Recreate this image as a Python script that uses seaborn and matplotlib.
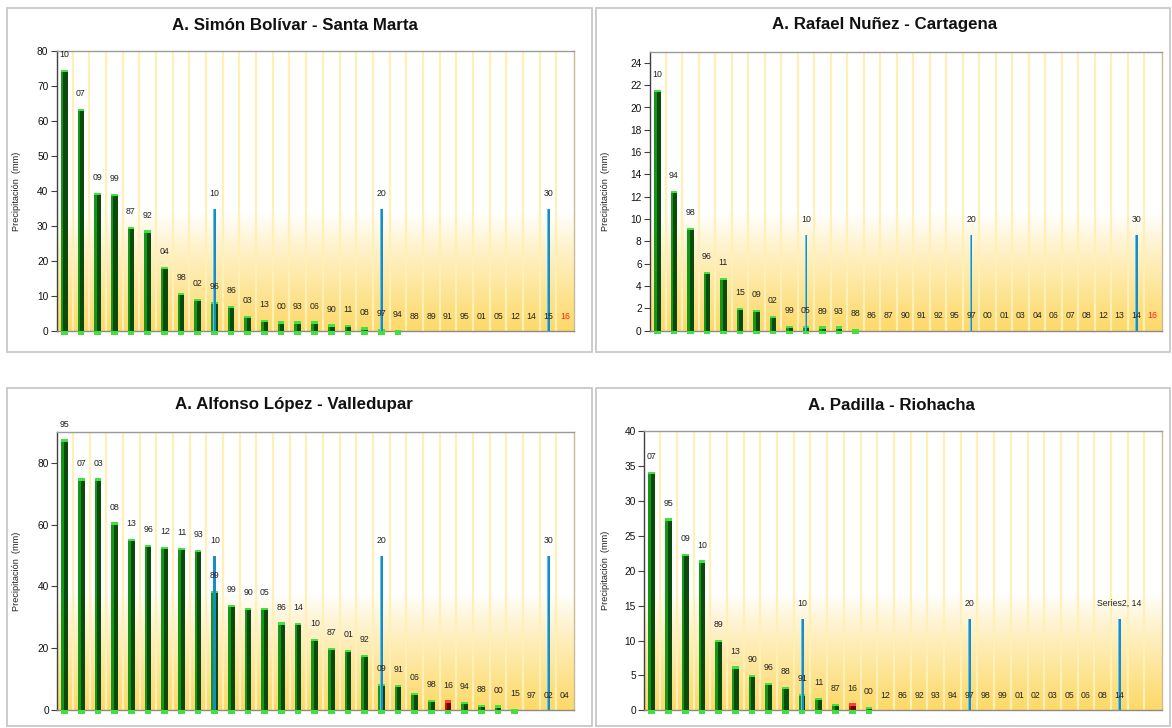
import numpy as np
import pandas as pd
import matplotlib
matplotlib.use("Agg")
import matplotlib.pyplot as plt
import seaborn as sns
from matplotlib.colors import to_rgb
from matplotlib.patches import Rectangle

sns.set_theme(style="white")
plt.rcParams["font.family"] = ["Liberation Sans", "DejaVu Sans"]

# ---------------- data ----------------
sm_years = ["10", "07", "09", "99", "87", "92", "04", "98", "02", "96", "86", "03", "13", "00", "93", "06",
            "90", "11", "08", "97", "94", "88", "89", "91", "95", "01", "05", "12", "14", "15", "16"]
sm_vals = [74.7, 63.5, 39.6, 39.3, 29.8, 28.8, 18.3, 10.9, 9.3, 8.4, 7.2, 4.5, 3.2, 2.8, 2.8, 2.8,
           2.0, 1.9, 1.1, 0.6, 0.5, 0, 0, 0, 0, 0, 0, 0, 0, 0, 0]

ct_years = ["10", "94", "98", "96", "11", "15", "09", "02", "99", "05", "89", "93", "88", "86", "87", "90",
            "91", "92", "95", "97", "00", "01", "03", "04", "06", "07", "08", "12", "13", "14", "16"]
ct_vals = [21.6, 12.5, 9.2, 5.25, 4.75, 2.05, 1.85, 1.35, 0.45, 0.45, 0.38, 0.38, 0.18, 0, 0, 0,
           0, 0, 0, 0, 0, 0, 0, 0, 0, 0, 0, 0, 0, 0, 0]

vd_years = ["95", "07", "03", "08", "13", "96", "12", "11", "93", "89", "99", "90", "05", "86", "14", "10",
            "87", "01", "92", "09", "91", "06", "98", "16", "94", "88", "00", "15", "97", "02", "04"]
vd_vals = [87.5, 74.9, 74.9, 60.7, 55.4, 53.5, 52.8, 52.5, 51.9, 38.6, 34.1, 33.2, 33.2, 28.4, 28.2, 23.0,
           20.2, 19.4, 17.8, 8.5, 8.1, 5.6, 3.4, 3.2, 2.7, 1.8, 1.6, 0.4, 0, 0, 0]

rh_years = ["07", "95", "09", "10", "89", "13", "90", "96", "88", "91", "11", "87", "16", "00", "12", "86",
            "92", "93", "94", "97", "98", "99", "01", "02", "03", "05", "06", "08", "14", "", ""]
rh_vals = [34.2, 27.5, 22.4, 21.5, 10.1, 6.3, 5.1, 3.95, 3.35, 2.4, 1.8, 0.95, 1.0, 0.45, 0, 0,
           0, 0, 0, 0, 0, 0, 0, 0, 0, 0, 0, 0, 0, 0, 0]

# reference (rank) series: rank index, height, label
sm_ref_pos = [9, 19, 29]
sm_ref_h = [35, 35, 35]
ct_ref_pos = [9, 19, 29]
ct_ref_h = [8.6, 8.6, 8.6]
vd_ref_pos = [9, 19, 29]
vd_ref_h = [50, 50, 50]
rh_ref_pos = [9, 19, 28]
rh_ref_h = [13.1, 13.1, 13.1]
ref_labels = ["10", "20", "30"]
rh_ref_labels = ["10", "20", "Series2, 14"]

current_year = "16"

W, H = 1172, 728
fig = plt.figure(figsize=(W / 100, H / 100), dpi=100)
fig.patch.set_facecolor("white")


def frame(x0, y0, x1, y1):
    fig.patches.append(Rectangle((x0 / W, 1 - y1 / H), (x1 - x0) / W, (y1 - y0) / H,
                                 transform=fig.transFigure, fill=False,
                                 ec="#c4c4c4", lw=1.2, zorder=0))


def add_axes(l, t, r, b):
    return fig.add_axes([l / W, 1 - b / H, (r - l) / W, (b - t) / H])


def gradient(ax):
    n = 300
    f = np.linspace(1, 0, n)[:, None]  # top -> bottom
    t = np.clip(1 - f / 0.42, 0, 1) ** 0.9
    top = np.array(to_rgb("#ffffff"))
    bot = np.array(to_rgb("#fdd968"))
    img = top[None, None, :] * (1 - t[..., None]) + bot[None, None, :] * t[..., None]
    img = np.repeat(img, 2, axis=1)
    ax.imshow(img, extent=[0, 1, 0, 1], transform=ax.transAxes, aspect="auto",
              zorder=0, interpolation="bilinear")


def panel(rect, title, title_xy, years, vals, ref_pos, ref_h, ref_lab, ymax, yticks, ylab_x):
    ax = add_axes(*rect)
    n = len(years)
    df = pd.DataFrame({"pos": np.arange(n), "year": years, "val": vals})
    df["kind"] = np.where((df["year"] == current_year) & (df["val"] > 0), "hot", "normal")
    gradient(ax)
    ax.vlines(np.arange(0.5, n - 0.5), 0, ymax, color="#fff0b5", lw=1.6, zorder=1)

    bw = 0.4
    sns.barplot(data=df, x="pos", y="val", hue="kind", order=list(range(n)),
                palette={"normal": "#169616", "hot": "#cc1010"}, dodge=False,
                width=bw, legend=False, ax=ax, zorder=3, linewidth=0, saturation=1)
    dark = np.where(df["kind"] == "hot", "#6e0000", "#0a4a0a")
    ax.bar(df["pos"] + bw * 0.18, df["val"], width=bw * 0.64, color=dark, zorder=4, lw=0)
    cap = ymax * 0.008
    capc = np.where(df["kind"] == "hot", "#ff4040", "#3fe23f")
    sel = df["val"] > 0
    ax.bar(df["pos"][sel], cap, bottom=df["val"][sel] - cap, width=bw,
           color=capc[sel.values], zorder=5, lw=0)
    ax.bar(df["pos"][sel], -ymax * 0.012, bottom=0, width=bw,
           color="#44dd44", zorder=5, lw=0, clip_on=False)

    # reference lines (10th, 20th, 30th rank)
    rdf = pd.DataFrame({"pos": ref_pos, "h": ref_h, "lab": ref_lab})
    ax.bar(rdf["pos"], rdf["h"], width=0.17, color="#1a8cc4", zorder=6, lw=0)
    ax.bar(rdf["pos"] - 0.045, rdf["h"], width=0.05, color="#5ec3ec", zorder=6, lw=0)
    for p, h, lab in zip(rdf["pos"], rdf["h"], rdf["lab"]):
        ax.annotate(lab, (p, h), xytext=(0, 11), textcoords="offset points",
                    ha="center", va="center", fontsize=6.3, color="#222222", zorder=8)

    for i, (y, v) in enumerate(zip(years, vals)):
        if y == "":
            continue
        col = "#ff2020" if (y == current_year and v == 0) else "#222222"
        ax.annotate(y, (i, v), xytext=(0, 11), textcoords="offset points",
                    ha="center", va="center", fontsize=6.3, color=col, zorder=8)

    ax.set_xlim(-0.45, n - 0.45)
    ax.set_ylim(0, ymax)
    ax.set_yticks(yticks)
    ax.set_yticklabels([str(t) for t in yticks])
    ax.set_xticks([])
    ax.set_xlabel("")
    ax.set_ylabel("")
    ax.tick_params(axis="y", direction="out", length=4, width=0.8, color="#404040",
                   labelsize=7.3, labelcolor="#111111", pad=2, left=True)
    for s, c in [("left", "#404040"), ("bottom", "#8a8a8a"), ("top", "#9a9a9a"), ("right", "#c8bc98")]:
        ax.spines[s].set_color(c)
        ax.spines[s].set_linewidth(1.0)
        ax.spines[s].set_visible(True)
    ax.grid(False)
    fig.text(title_xy[0] / W, 1 - title_xy[1] / H, title, ha="center", va="center",
             fontsize=12.2, fontweight="bold", color="#111111")
    yc = (rect[1] + rect[3]) / 2
    fig.text(ylab_x / W, 1 - yc / H, "Precipitación  (mm)", rotation=90,
             ha="center", va="center", fontsize=6.6, color="#222222")
    return ax


frame(7, 8, 592, 352)
frame(596, 8, 1170, 352)
frame(7, 388, 592, 726)
frame(596, 388, 1170, 726)

panel((56.7, 51.3, 574, 331.3), "A. Simón Bolívar - Santa Marta", (295, 25),
      sm_years, sm_vals, sm_ref_pos, sm_ref_h, ref_labels, 80, list(range(0, 81, 10)), 17)
panel((650, 51.7, 1161.7, 330.7), "A. Rafael Nuñez - Cartagena", (885, 25),
      ct_years, ct_vals, ct_ref_pos, ct_ref_h, ref_labels, 25, list(range(0, 25, 2)), 606)
panel((57.3, 431.7, 574, 710.3), "A. Alfonso López - Valledupar", (294, 405),
      vd_years, vd_vals, vd_ref_pos, vd_ref_h, ref_labels, 90, [0, 20, 40, 60, 80], 17)
panel((644.3, 431.3, 1162, 710.3), "A. Padilla - Riohacha", (891, 405),
      rh_years, rh_vals, rh_ref_pos, rh_ref_h, rh_ref_labels, 40, list(range(0, 41, 5)), 605)

fig.savefig("out.png", dpi=100, facecolor="white")
